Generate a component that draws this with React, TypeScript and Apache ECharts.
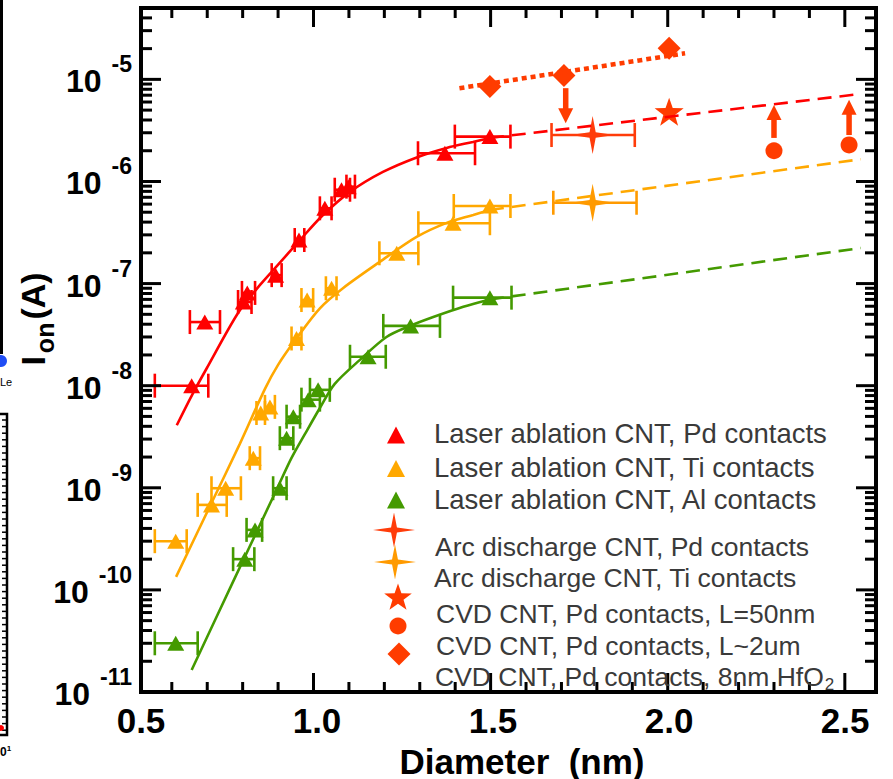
import React, { useEffect, useRef } from 'react';
import * as echarts from 'echarts';

const FONT = 'Liberation Sans, Arial, Helvetica, sans-serif';

// axis extents
const X_MIN = 0.513;
const X_MAX = 2.588;
const Y_MIN = 1e-11;
const Y_MAX = 5e-5;

// Laser ablation CNT, Pd contacts
const pdD = [0.656, 0.693, 0.802, 0.813, 0.893, 0.959, 1.032, 1.079, 1.098, 1.371, 1.498];
const pdI = [1.0e-8, 4.2e-8, 6.6e-8, 8.1e-8, 1.21e-7, 2.67e-7, 5.46e-7, 8.3e-7, 8.9e-7, 1.89e-6, 2.75e-6];
const pdLo = [0.552, 0.651, 0.787, 0.798, 0.882, 0.947, 1.018, 1.06, 1.093, 1.295, 1.399];
const pdHi = [0.703, 0.736, 0.825, 0.835, 0.91, 0.974, 1.051, 1.103, 1.117, 1.456, 1.556];

// Laser ablation CNT, Ti contacts
const tiD = [0.611, 0.712, 0.752, 0.83, 0.851, 0.877, 0.952, 0.982, 1.051, 1.235, 1.394, 1.498];
const tiI = [3.0e-10, 6.8e-10, 9.9e-10, 1.95e-9, 5.4e-9, 6.2e-9, 2.9e-8, 6.9e-8, 9.0e-8, 1.98e-7, 3.9e-7, 5.75e-7];
const tiLo = [0.552, 0.673, 0.712, 0.82, 0.839, 0.863, 0.938, 0.966, 1.035, 1.186, 1.296, 1.396];
const tiHi = [0.642, 0.755, 0.795, 0.849, 0.863, 0.891, 0.966, 0.999, 1.065, 1.296, 1.498, 1.556];

// Laser ablation CNT, Al contacts
const alD = [0.611, 0.806, 0.835, 0.905, 0.924, 0.943, 0.985, 1.013, 1.154, 1.274, 1.498];
const alI = [3.0e-11, 2.0e-10, 3.87e-10, 9.9e-10, 3.06e-9, 4.97e-9, 7.3e-9, 9.1e-9, 1.92e-8, 3.85e-8, 7.28e-8];
const alLo = [0.552, 0.773, 0.811, 0.886, 0.905, 0.924, 0.966, 0.99, 1.103, 1.197, 1.394];
const alHi = [0.673, 0.833, 0.855, 0.924, 0.943, 0.962, 1.018, 1.046, 1.204, 1.357, 1.559];

// fitted curves (solid) and extrapolations (dashed)
const pdFitD = [0.614, 0.657, 0.699, 0.787, 0.849, 0.897, 0.962, 1.024, 1.103, 1.196, 1.295, 1.376, 1.45, 1.498];
const pdFitI = [4.1e-9, 8.1e-9, 1.49e-8, 5.15e-8, 9.7e-8, 1.49e-7, 2.67e-7, 4.59e-7, 7.9e-7, 1.24e-6, 1.74e-6, 2.13e-6, 2.44e-6, 2.67e-6];
const tiFitD = [0.612, 0.712, 0.792, 0.863, 0.9, 0.952, 1.018, 1.084, 1.187, 1.291, 1.376, 1.451, 1.498];
const tiFitI = [1.34e-10, 7.1e-10, 2.69e-9, 9.3e-9, 1.6e-8, 2.91e-8, 5.73e-8, 9.06e-8, 1.63e-7, 2.86e-7, 3.93e-7, 4.7e-7, 5.26e-7];
const alFitD = [0.656, 0.778, 0.9, 0.938, 0.976, 1.018, 1.06, 1.131, 1.206, 1.272, 1.338, 1.423, 1.498];
const alFitI = [1.64e-11, 1.31e-10, 1.03e-9, 1.96e-9, 3.37e-9, 6.05e-9, 1.04e-8, 1.79e-8, 3.0e-8, 3.85e-8, 4.71e-8, 5.94e-8, 7.0e-8];
const extD = [1.498, 2.545];
const pdExtI = [2.67e-6, 7.2e-6];
const tiExtI = [5.26e-7, 1.65e-6];
const alExtI = [7.0e-8, 2.23e-7];

// Arc discharge CNT
const arcD = [1.788];
const arcPdI = [2.85e-6];
const arcTiI = [6.19e-7];
const arcPdLo = [1.672];
const arcPdHi = [1.907];
const arcTiLo = [1.677];
const arcTiHi = [1.912];

// CVD CNT
const cvdStarD = [2.004];
const cvdStarI = [4.83e-6];
const cvdCircD = [2.3, 2.512];
const cvdCircI = [2.0e-6, 2.28e-6];
const cvdDiaD = [1.498, 1.707, 2.004];
const cvdDiaI = [8.5e-6, 1.09e-5, 2.02e-5];
const cvdDiaFitD = [1.412, 2.049];
const cvdDiaFitI = [8.2e-6, 1.8e-5];
// arrows: x, from, to
const arrowD = [2.3, 2.512, 1.712];
const arrowFrom = [2.67e-6, 2.85e-6, 8.2e-6];
const arrowTo = [5.6e-6, 6.3e-6, 3.72e-6];

// tick values
const xTickVals = [0.6, 0.7, 0.8, 0.9, 1.0, 1.1, 1.2, 1.3, 1.4, 1.5, 1.6, 1.7, 1.8, 1.9, 2.0, 2.1, 2.2, 2.3, 2.4, 2.5];
const yDecades = [-11, -10, -9, -8, -7, -6, -5];
const yMantissas = [1, 2, 3, 4, 5, 6, 7, 8, 9];
const xLabelVals = ['0.5', '1.0', '1.5', '2.0', '2.5'];

const C_PD = '#ff0000';
const C_TI = '#ffa800';
const C_AL = '#449a00';
const C_ARC_PD = '#ff3c0a';
const C_ARC_TI = '#ff9a00';
const C_CVD = '#ff3c00';

const STAR4 = 'path://M50,0L57,43L100,50L57,57L50,100L43,57L0,50L43,43Z';
const STAR5 = 'path://M50,0L61.76,33.82L97.55,34.55L69.02,56.18L79.39,90.45L50,70L20.61,90.45L30.98,56.18L2.45,34.55L38.24,33.82Z';
const STAR4_PTS = [[50, 0], [57, 43], [100, 50], [57, 57], [50, 100], [43, 57], [0, 50], [43, 43]];
const STAR5_PTS = [[50, 0], [61.76, 33.82], [97.55, 34.55], [69.02, 56.18], [79.39, 90.45], [50, 70], [20.61, 90.45], [30.98, 56.18], [2.45, 34.55], [38.24, 33.82]];

function pairs(xs: number[], ys: number[]) {
  return xs.map((x, i) => [x, ys[i]]);
}

function errData(lo: number[], hi: number[], ys: number[]) {
  return lo.map((l, i) => [l, hi[i], ys[i]]);
}

function errSeries(name: string, color: string, data: number[][], cap: number) {
  return {
    type: 'custom',
    name,
    xAxisIndex: 0,
    yAxisIndex: 0,
    silent: true,
    encode: { x: [0, 1], y: 2 },
    data,
    renderItem: (_p: any, api: any) => {
      const a = api.coord([api.value(0), api.value(2)]);
      const b = api.coord([api.value(1), api.value(2)]);
      const st = { stroke: color, lineWidth: 2.6 };
      return {
        type: 'group',
        children: [
          { type: 'line', shape: { x1: a[0], y1: a[1], x2: b[0], y2: b[1] }, style: st },
          { type: 'line', shape: { x1: a[0], y1: a[1] - cap, x2: a[0], y2: a[1] + cap }, style: st },
          { type: 'line', shape: { x1: b[0], y1: b[1] - cap, x2: b[0], y2: b[1] + cap }, style: st },
        ],
      };
    },
  };
}

function lineSeries(name: string, data: number[][], color: string, dashed: boolean) {
  return {
    type: 'line',
    name,
    xAxisIndex: 0,
    data,
    smooth: dashed ? false : 0.3,
    symbol: 'none',
    silent: true,
    lineStyle: { color, width: 2.6, type: dashed ? [14, 8] : 'solid' },
  };
}

function scatterSeries(name: string, data: number[][], symbol: string, size: any, color: string) {
  return {
    type: 'scatter',
    name,
    xAxisIndex: 0,
    data,
    symbol,
    symbolSize: size,
    itemStyle: { color, opacity: 1 },
    silent: true,
  };
}

function polyPts(pts: number[][], cx: number, cy: number, w: number, h: number) {
  return pts.map(([x, y]) => [cx + (x - 50) / 100 * w, cy + (y - 50) / 100 * h]);
}

function buildOption() {
  const yTickVals: number[] = [];
  yDecades.forEach((e) => {
    yMantissas.forEach((m) => {
      const v = Number((m * Math.pow(10, e)).toPrecision(3));
      if (v < Y_MAX * 0.999) yTickVals.push(v);
    });
  });

  const legendTexts: [number, number, string, number][] = [
    [434, 433, 'Laser ablation CNT, Pd contacts', 27.5],
    [434, 467, 'Laser ablation CNT, Ti contacts', 27.5],
    [434, 499, 'Laser ablation CNT, Al contacts', 27.5],
    [435, 547, 'Arc discharge CNT, Pd contacts', 26.5],
    [434, 578, 'Arc discharge CNT, Ti contacts', 26.5],
    [436, 614, 'CVD CNT, Pd contacts, L=50nm', 26.5],
    [436, 646, 'CVD CNT, Pd contacts, L~2um', 26.5],
    [435, 677, 'CVD CNT, Pd contacts, 8nm HfO{s|2}', 26.5],
  ];

  const graphic: any[] = [];
  legendTexts.forEach(([x, y, t, fs]) => {
    graphic.push({
      type: 'text',
      x, y,
      z: 50,
      style: {
        text: t,
        fontFamily: FONT,
        fontSize: fs,
        fill: '#3a3a3a',
        align: 'left',
        verticalAlign: 'middle',
        rich: { s: { fontSize: 17, fontFamily: FONT, fill: '#3a3a3a', padding: [14, 0, 0, 1] } },
      },
    });
  });
  const tri = (cx: number, cy: number, color: string) => ({
    type: 'polygon', z: 50,
    shape: { points: [[cx, cy - 8.5], [cx + 9, cy + 8.5], [cx - 9, cy + 8.5]] },
    style: { fill: color },
  });
  graphic.push(tri(396, 435, C_PD), tri(396, 468.5, C_TI), tri(396, 500, C_AL));
  graphic.push({ type: 'polygon', z: 50, shape: { points: polyPts(STAR4_PTS, 394, 530, 42, 35) }, style: { fill: C_ARC_PD } });
  graphic.push({ type: 'polygon', z: 50, shape: { points: polyPts(STAR4_PTS, 395, 562, 42, 35) }, style: { fill: C_ARC_TI } });
  graphic.push({ type: 'polygon', z: 50, shape: { points: polyPts(STAR5_PTS, 398, 598, 29, 29) }, style: { fill: C_CVD } });
  graphic.push({ type: 'circle', z: 50, shape: { cx: 398, cy: 626, r: 8.5 }, style: { fill: C_CVD } });
  graphic.push({ type: 'polygon', z: 50, shape: { points: [[399, 642.5], [410.5, 654], [399, 665.5], [387.5, 654]] }, style: { fill: C_CVD } });

  // axis titles
  graphic.push({
    type: 'text', x: 522, y: 761, z: 50,
    style: { text: 'Diameter  (nm)', fontFamily: FONT, fontSize: 35, fontWeight: 'bold', fill: '#000', align: 'center', verticalAlign: 'middle' },
  });
  graphic.push({
    type: 'text', x: 33, y: 319, rotation: Math.PI / 2, z: 50,
    style: {
      text: '{a|I}{b|on}{a|(A)}',
      align: 'center', verticalAlign: 'middle',
      rich: {
        a: { fontFamily: FONT, fontSize: 34, fontWeight: 'bold', fill: '#000' },
        b: { fontFamily: FONT, fontSize: 25, fontWeight: 'bold', fill: '#000', padding: [24, 3, 0, 3] },
      },
    },
  });

  // fragments of neighbouring panels cut at the left edge
  graphic.push({ type: 'rect', shape: { x: 0, y: 0, width: 3, height: 354 }, style: { fill: '#000' } });
  graphic.push({ type: 'circle', shape: { cx: 1, cy: 361, r: 6 }, style: { fill: '#1f4df5' } });
  graphic.push({ type: 'text', x: 0, y: 382, style: { text: 'Le', fontFamily: FONT, fontSize: 11, fill: '#000', verticalAlign: 'middle' } });
  graphic.push({ type: 'rect', shape: { x: -4, y: 414, width: 11, height: 321 }, style: { fill: 'none', stroke: '#000', lineWidth: 2.5 } });
  for (let k = 0; k < 48; k++) {
    const yy = 420 + k * 6.6;
    graphic.push({ type: 'line', shape: { x1: 2, y1: yy, x2: 7, y2: yy }, style: { stroke: '#000', lineWidth: 1.5 } });
  }
  graphic.push({ type: 'circle', shape: { cx: 1, cy: 728, r: 3 }, style: { fill: '#ff0000' } });
  graphic.push({ type: 'text', x: 0, y: 752, style: { text: '0{s|1}', fontFamily: FONT, fontSize: 12, fontWeight: 'bold', fill: '#000', verticalAlign: 'middle', rich: { s: { fontSize: 8, fontWeight: 'bold', fill: '#000', padding: [0, 0, 8, 0] } } } });

  const series: any[] = [
    lineSeries('Pd fit', pairs(pdFitD, pdFitI), C_PD, false),
    lineSeries('Pd extrapolation', pairs(extD, pdExtI), C_PD, true),
    lineSeries('Ti fit', pairs(tiFitD, tiFitI), C_TI, false),
    lineSeries('Ti extrapolation', pairs(extD, tiExtI), C_TI, true),
    lineSeries('Al fit', pairs(alFitD, alFitI), C_AL, false),
    lineSeries('Al extrapolation', pairs(extD, alExtI), C_AL, true),
    {
      type: 'line', name: 'HfO2 fit', xAxisIndex: 0, data: pairs(cvdDiaFitD, cvdDiaFitI), symbol: 'none', silent: true,
      lineStyle: { color: C_CVD, width: 4.5, type: [5, 4] },
    },
    errSeries('Pd err', C_PD, errData(pdLo, pdHi, pdI), 12),
    errSeries('Ti err', C_TI, errData(tiLo, tiHi, tiI), 12),
    errSeries('Al err', C_AL, errData(alLo, alHi, alI), 12),
    errSeries('Arc Pd err', C_ARC_PD, errData(arcPdLo, arcPdHi, arcPdI), 12),
    errSeries('Arc Ti err', C_ARC_TI, errData(arcTiLo, arcTiHi, arcTiI), 12),
    scatterSeries('Laser ablation CNT, Pd contacts', pairs(pdD, pdI), 'triangle', [17, 15], C_PD),
    scatterSeries('Laser ablation CNT, Ti contacts', pairs(tiD, tiI), 'triangle', [17, 15], C_TI),
    scatterSeries('Laser ablation CNT, Al contacts', pairs(alD, alI), 'triangle', [17, 15], C_AL),
    scatterSeries('Arc discharge CNT, Pd contacts', pairs(arcD, arcPdI), STAR4, [44, 38], C_ARC_PD),
    scatterSeries('Arc discharge CNT, Ti contacts', pairs(arcD, arcTiI), STAR4, [44, 38], C_ARC_TI),
    scatterSeries('CVD CNT, Pd contacts, L=50nm', pairs(cvdStarD, cvdStarI), STAR5, [29, 28], C_CVD),
    scatterSeries('CVD CNT, Pd contacts, L~2um', pairs(cvdCircD, cvdCircI), 'circle', 17, C_CVD),
    scatterSeries('CVD CNT, Pd contacts, 8nm HfO2', pairs(cvdDiaD, cvdDiaI), 'diamond', 23, C_CVD),
    {
      type: 'custom', name: 'arrows', xAxisIndex: 0, silent: true, clip: false,
      encode: { x: 0, y: [1, 2] },
      data: arrowD.map((d, i) => [d, arrowFrom[i], arrowTo[i]]),
      renderItem: (_p: any, api: any) => {
        const a = api.coord([api.value(0), api.value(1)]);
        const b = api.coord([api.value(0), api.value(2)]);
        const dir = b[1] < a[1] ? -1 : 1;
        const head = 15;
        const hw = 7.5;
        const baseY = b[1] - dir * head;
        return {
          type: 'group',
          children: [
            { type: 'line', shape: { x1: a[0], y1: a[1], x2: a[0], y2: baseY + dir * 1 }, style: { stroke: C_CVD, lineWidth: 5.5 } },
            { type: 'polygon', shape: { points: [[b[0], b[1]], [b[0] - hw, baseY], [b[0] + hw, baseY]] }, style: { fill: C_CVD } },
          ],
        };
      },
    },
    {
      type: 'custom', name: 'x ticks', xAxisIndex: 0, silent: true, clip: false, z: 10,
      encode: { x: 0, y: 1 },
      data: xTickVals.map((v) => [v, Y_MIN]),
      renderItem: (_p: any, api: any) => {
        const v = api.value(0);
        const major = Math.abs(v * 2 - Math.round(v * 2)) < 1e-6;
        const len = major ? 19 : 10;
        const b = api.coord([v, Y_MIN]);
        const t = api.coord([v, Y_MAX]);
        const st = { stroke: '#000', lineWidth: 3 };
        return {
          type: 'group',
          children: [
            { type: 'line', shape: { x1: b[0], y1: b[1], x2: b[0], y2: b[1] - len }, style: st },
            { type: 'line', shape: { x1: t[0], y1: t[1], x2: t[0], y2: t[1] + len }, style: st },
          ],
        };
      },
    },
    {
      type: 'custom', name: 'y ticks', xAxisIndex: 0, silent: true, clip: false, z: 10,
      encode: { x: 0, y: 1 },
      data: yTickVals.map((v) => [X_MIN, v]),
      renderItem: (_p: any, api: any) => {
        const v = api.value(1);
        const lg = Math.log10(v);
        const major = Math.abs(lg - Math.round(lg)) < 1e-6;
        const len = major ? 20 : 11;
        const l = api.coord([X_MIN, v]);
        const r = api.coord([X_MAX, v]);
        const st = { stroke: '#000', lineWidth: 3 };
        return {
          type: 'group',
          children: [
            { type: 'line', shape: { x1: l[0], y1: l[1], x2: l[0] + len, y2: l[1] }, style: st },
            { type: 'line', shape: { x1: r[0], y1: r[1], x2: r[0] - len, y2: r[1] }, style: st },
          ],
        };
      },
    },
  ];

  return {
    animation: false,
    backgroundColor: '#ffffff',
    grid: { left: 141, right: 17, top: 8, bottom: 87, show: true, borderColor: '#000', borderWidth: 4, backgroundColor: 'transparent' },
    xAxis: [
      {
        type: 'value', min: X_MIN, max: X_MAX, position: 'bottom',
        axisLine: { show: false }, axisTick: { show: false }, axisLabel: { show: false }, splitLine: { show: false },
      },
      {
        type: 'value', min: 0.5, max: X_MAX, interval: 0.5, position: 'bottom',
        axisLine: { show: false }, axisTick: { show: false }, splitLine: { show: false },
        axisLabel: {
          margin: 11,
          fontFamily: FONT, fontSize: 35, fontWeight: 'bold', color: '#000',
          formatter: (v: number) => {
            const s = v.toFixed(1);
            return xLabelVals.indexOf(s) >= 0 && Math.abs(v * 2 - Math.round(v * 2)) < 1e-6 ? s : '';
          },
        },
      },
    ],
    yAxis: {
      type: 'log', logBase: 10, min: Y_MIN, max: Y_MAX,
      axisLine: { show: false }, axisTick: { show: false }, splitLine: { show: false },
      axisLabel: {
        margin: 9,
        formatter: (v: number) => {
          const lg = Math.log10(v);
          const e = Math.round(lg);
          if (Math.abs(lg - e) > 1e-6) return '';
          return `{b|10}{s|${e}}`;
        },
        rich: {
          b: { fontFamily: FONT, fontSize: 32, fontWeight: 'bold', color: '#000', padding: [4, 0, 0, 0] },
          s: { fontFamily: FONT, fontSize: 23, fontWeight: 'bold', color: '#000', padding: [0, 0, 30, 10] },
        },
      },
    },
    series,
    graphic,
  };
}

export default function App() {
  const ref = useRef<HTMLDivElement>(null);
  useEffect(() => {
    if (!ref.current) return;
    const chart = echarts.init(ref.current, undefined, { renderer: 'svg' });
    chart.setOption(buildOption() as any);
    return () => chart.dispose();
  }, []);
  return <div ref={ref} style={{ position: 'absolute', left: 0, top: 0, width: 893, height: 779 }} />;
}
